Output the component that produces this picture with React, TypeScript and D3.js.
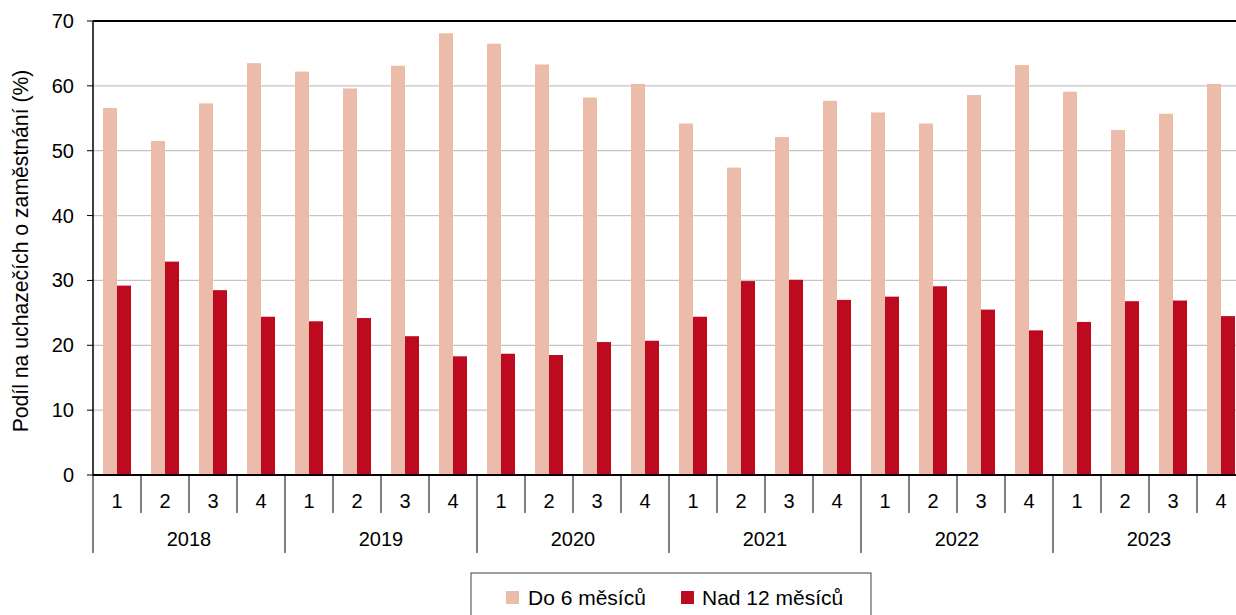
import React from 'react';
import * as d3 from 'd3';

// quarters and years on the x axis
const years = ['2018', '2019', '2020', '2021', '2022', '2023'];
const quarters = ['1', '2', '3', '4'];
const seriesNames = ['Do 6 měsíců', 'Nad 12 měsíců'];
const seriesColors = ['#ECBCAA', '#BD0A1F'];

// share of job seekers (%), by quarter 2018 Q1 .. 2023 Q4
const upTo6Months = [
  56.6, 51.5, 57.3, 63.5,
  62.2, 59.6, 63.1, 68.1,
  66.5, 63.3, 58.2, 60.3,
  54.2, 47.4, 52.1, 57.7,
  55.9, 54.2, 58.6, 63.2,
  59.1, 53.2, 55.7, 60.3,
];
const over12Months = [
  29.2, 32.9, 28.5, 24.4,
  23.7, 24.2, 21.4, 18.3,
  18.7, 18.5, 20.5, 20.7,
  24.4, 29.9, 30.1, 27.0,
  27.5, 29.1, 25.5, 22.3,
  23.6, 26.8, 26.9, 24.5,
];
const yTicks = [0, 10, 20, 30, 40, 50, 60, 70];

const W = 1236;
const H = 615;
const left = 93;
const right = 1245; // plot runs past the picture edge
const top = 21;
const bottom = 475;
const font = '"Liberation Sans", Arial, sans-serif';

export default function App() {
  const cats = d3.range(years.length * quarters.length);
  const x = d3.scaleBand<number>().domain(cats).range([left, right]).padding(0);
  const inner = d3
    .scaleBand<number>()
    .domain([0, 1])
    .range([0, x.bandwidth()])
    .paddingInner(0)
    .paddingOuter(0.714);
  const y = d3.scaleLinear().domain([0, 70]).range([bottom, top]);
  const series = [upTo6Months, over12Months];

  return (
    <svg width={W} height={H} style={{ display: 'block', position: 'absolute', left: 0, top: 0 }} fontFamily={font}>
      {/* gridlines */}
      {yTicks.slice(1, -1).map((t) => (
        <line key={t} x1={left} x2={right} y1={y(t)} y2={y(t)} stroke="#C4C4C4" strokeWidth={1.3} />
      ))}
      <line x1={left} x2={right} y1={y(70)} y2={y(70)} stroke="#000" strokeWidth={2} />

      {/* bars */}
      {series.map((vals, s) =>
        vals.map((v, i) => (
          <rect
            key={s + '-' + i}
            x={(x(i) as number) + (inner(s) as number)}
            y={y(v)}
            width={inner.bandwidth()}
            height={y(0) - y(v)}
            fill={seriesColors[s]}
          />
        ))
      )}

      {/* y axis */}
      <line x1={left} x2={left} y1={top} y2={bottom} stroke="#000" strokeWidth={1.5} />
      {yTicks.map((t) => (
        <g key={t}>
          <line x1={left - 6} x2={left} y1={y(t)} y2={y(t)} stroke="#000" strokeWidth={1} />
          <text x={left - 19} y={y(t)} dy="0.35em" textAnchor="end" fontSize={20} fill="#000">
            {t}
          </text>
        </g>
      ))}
      <text
        transform={`translate(20,${(top + bottom) / 2 + 3}) rotate(-90)`}
        textAnchor="middle"
        dominantBaseline="central"
        fontSize={21.2}
        fill="#000"
      >
        Podíl na uchazečích o zaměstnání (%)
      </text>

      {/* x axis */}
      <line x1={left} x2={right} y1={bottom} y2={bottom} stroke="#000" strokeWidth={2} />
      {cats.map((i) => (
        <g key={i}>
          <line
            x1={x(i) as number}
            x2={x(i) as number}
            y1={bottom}
            y2={i % 4 === 0 ? 553 : 513}
            stroke="#000"
            strokeWidth={1}
          />
          <text x={(x(i) as number) + x.bandwidth() / 2} y={501} dy="0.35em" textAnchor="middle" fontSize={20} fill="#000">
            {quarters[i % 4]}
          </text>
        </g>
      ))}
      <line x1={right} x2={right} y1={bottom} y2={553} stroke="#000" strokeWidth={1} />
      {years.map((yr, k) => (
        <text
          key={yr}
          x={(x(k * 4) as number) + x.bandwidth() * 2}
          y={539}
          dy="0.35em"
          textAnchor="middle"
          fontSize={20}
          fill="#000"
        >
          {yr}
        </text>
      ))}

      {/* legend */}
      <rect x={471} y={573} width={400} height={60} fill="none" stroke="#404040" strokeWidth={1} />
      {seriesNames.map((name, s) => (
        <g key={name} transform={`translate(${s === 0 ? 506 : 681},0)`}>
          <rect x={0} y={591} width={13} height={13} fill={seriesColors[s]} />
          <text x={s === 0 ? 22 : 21} y={598} dy="0.35em" fontSize={21} fill="#000">
            {name}
          </text>
        </g>
      ))}
    </svg>
  );
}
